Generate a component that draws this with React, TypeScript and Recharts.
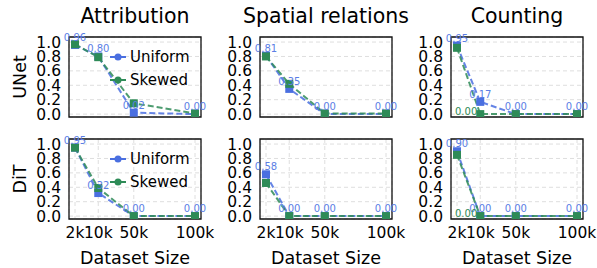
import React from 'react'
import {
  LineChart, Line, XAxis, YAxis, CartesianGrid, ReferenceArea, LabelList, Legend,
} from 'recharts'

// x positions of the four dataset sizes (as they sit on the reference axis) and their labels
const sizeLabels = ['2k', '10k', '50k', '100k']
const sizePos = [2, 21, 50, 100]
const yTicks = [0, 0.2, 0.4, 0.6, 0.8, 1.0]
const xDomain = [-2.9, 104.9]
const yDomain = [-0.04, 1.07]

const colTitles = ['Attribution', 'Spatial relations', 'Counting']
const rowTitles = ['UNet', 'DiT']
const seriesOrder = ['Uniform', 'Skewed']

// UNet
const unetAttrUniform = [0.96, 0.8, 0.02, 0.0]
const unetAttrSkewed = [0.97, 0.79, 0.15, 0.01]
const unetSpatUniform = [0.81, 0.35, 0.0, 0.0]
const unetSpatSkewed = [0.8, 0.42, 0.01, 0.01]
const unetCountUniform = [0.95, 0.17, 0.0, 0.0]
const unetCountSkewed = [0.92, 0.0, 0.0, 0.0]

// DiT
const ditAttrUniform = [0.95, 0.32, 0.0, 0.0]
const ditAttrSkewed = [0.95, 0.39, 0.0, 0.0]
const ditSpatUniform = [0.58, 0.0, 0.0, 0.0]
const ditSpatSkewed = [0.46, 0.0, 0.0, 0.0]
const ditCountUniform = [0.9, 0.0, 0.0, 0.0]
const ditCountSkewed = [0.85, 0.0, 0.0, 0.0]

// which Skewed points get their own value label
const countSkewedLabelIdx = [1]

const BLUE = '#4a6fe0'
const BLUE_TEXT = '#5b7ee5'
const GREEN = '#2e8b57'
const FONT = '"DejaVu Sans", sans-serif'

const colLeft = [69, 260, 451]
const rowTop = [37, 139]
const BOX_W = 132
const BOX_H = 80
const Y_AXIS_W = 40
const M_TOP = 12
const M_RIGHT = 14

const squareDot = (color: string) => (p: any) => (
  <rect key={p.key ?? p.index} x={p.cx - 4} y={p.cy - 4} width={8} height={8} fill={color} />
)

const UniformLabel = (p: any) => (
  <text x={p.x} y={p.y - 4} textAnchor="middle" fontSize={10} fill={BLUE_TEXT} fontFamily={FONT}>
    {Number(p.value).toFixed(2)}
  </text>
)

const makeSkewedLabel = (idx: number[]) => (p: any) => {
  if (!idx.includes(p.index)) return null
  return (
    <text x={p.x - 3} y={p.y + 1} textAnchor="end" fontSize={10} fill={GREEN} fontFamily={FONT}>
      {Number(p.value).toFixed(2)}
    </text>
  )
}

const LegendBox = ({ payload }: any) => {
  const items = [...(payload || [])].sort(
    (a: any, b: any) => seriesOrder.indexOf(a.value) - seriesOrder.indexOf(b.value),
  )
  return (
    <div style={{ fontFamily: FONT, fontSize: 15, color: '#000' }}>
      {items.map((e: any) => (
        <div key={e.value} style={{ display: 'flex', alignItems: 'center', height: 23 }}>
          <svg width={18} height={10} style={{ marginRight: 2 }}>
            <line x1={0} y1={5} x2={16} y2={5} stroke={e.color} strokeWidth={2} />
            <circle cx={8} cy={5} r={3.5} fill={e.color} />
          </svg>
          <span>{e.value}</span>
        </div>
      ))}
    </div>
  )
}

interface PanelProps {
  row: number
  col: number
  uniform: number[]
  skewed: number[]
  showLegend?: boolean
  skewedLabelIdx?: number[]
}

const Panel = ({ row, col, uniform, skewed, showLegend, skewedLabelIdx = [] }: PanelProps) => {
  const showX = row === 1
  const xAxisH = showX ? 30 : 0
  const data = sizePos.map((x, i) => ({ x, uniform: uniform[i], skewed: skewed[i] }))
  return (
    <div style={{ position: 'absolute', left: colLeft[col] - Y_AXIS_W, top: rowTop[row] - M_TOP }}>
      <LineChart
        width={Y_AXIS_W + BOX_W + M_RIGHT}
        height={M_TOP + BOX_H + xAxisH}
        data={data}
        margin={{ top: M_TOP, right: M_RIGHT, bottom: 0, left: 0 }}
      >
        <CartesianGrid stroke="#dedede" strokeDasharray="4 3" />
        <XAxis
          type="number"
          dataKey="x"
          domain={xDomain}
          ticks={sizePos}
          interval={0}
          tickFormatter={v => sizeLabels[sizePos.indexOf(v)]}
          height={xAxisH}
          tick={showX ? { fontSize: 15.5, fill: '#000', fontFamily: FONT } : false}
          axisLine={false}
          tickLine={false}
          allowDataOverflow
        />
        <YAxis
          type="number"
          domain={yDomain}
          ticks={yTicks}
          interval={0}
          tickFormatter={v => v.toFixed(1)}
          width={Y_AXIS_W}
          tick={{ fontSize: 15.5, fill: '#000', fontFamily: FONT }}
          axisLine={false}
          tickLine={false}
          allowDataOverflow
        />
        {/* axes frame */}
        <ReferenceArea
          x1={xDomain[0]}
          x2={xDomain[1]}
          y1={yDomain[0]}
          y2={yDomain[1]}
          fill="none"
          fillOpacity={0}
          stroke="#111"
          strokeWidth={1.3}
          ifOverflow="visible"
        />
        <Line
          dataKey="uniform"
          name="Uniform"
          stroke={BLUE}
          strokeWidth={2}
          strokeOpacity={0.85}
          strokeDasharray="6 3"
          dot={squareDot(BLUE)}
          activeDot={false}
          isAnimationActive={false}
        >
          <LabelList dataKey="uniform" content={UniformLabel} />
        </Line>
        <Line
          dataKey="skewed"
          name="Skewed"
          stroke={GREEN}
          strokeWidth={2}
          strokeOpacity={0.85}
          strokeDasharray="6 3"
          dot={squareDot(GREEN)}
          activeDot={false}
          isAnimationActive={false}
        >
          <LabelList dataKey="skewed" content={makeSkewedLabel(skewedLabelIdx)} />
        </Line>
        {showLegend && (
          <Legend
            layout="vertical"
            align="center"
            verticalAlign="middle"
            content={<LegendBox />}
            wrapperStyle={{ left: 81, top: 20, width: 'auto' }}
          />
        )}
      </LineChart>
    </div>
  )
}

const centerText = (text: string, x: number, y: number, size: number, rotate = false) => (
  <div
    key={text + x + y}
    style={{
      position: 'absolute', left: x, top: y, fontSize: size, whiteSpace: 'nowrap', lineHeight: 1,
      transform: `translate(-50%, -50%)${rotate ? ' rotate(-90deg)' : ''}`,
    }}
  >
    {text}
  </div>
)

export default function App() {
  return (
    <div
      style={{
        position: 'absolute', left: 0, top: 0, width: 597, height: 268,
        background: '#fff', fontFamily: FONT, color: '#000', overflow: 'hidden',
      }}
    >
      <style>{'.recharts-surface{overflow:visible}'}</style>
      {colTitles.map((t, i) => centerText(t, colLeft[i] + BOX_W / 2, 16, 20.5))}
      {rowTitles.map((t, i) => centerText(t, 21, rowTop[i] + BOX_H / 2, 17.5, true))}
      {colLeft.map((l, i) => centerText('Dataset Size', l + BOX_W / 2, 259, 17.5))}

      <Panel row={0} col={0} uniform={unetAttrUniform} skewed={unetAttrSkewed} showLegend />
      <Panel row={0} col={1} uniform={unetSpatUniform} skewed={unetSpatSkewed} />
      <Panel row={0} col={2} uniform={unetCountUniform} skewed={unetCountSkewed} skewedLabelIdx={countSkewedLabelIdx} />
      <Panel row={1} col={0} uniform={ditAttrUniform} skewed={ditAttrSkewed} showLegend />
      <Panel row={1} col={1} uniform={ditSpatUniform} skewed={ditSpatSkewed} />
      <Panel row={1} col={2} uniform={ditCountUniform} skewed={ditCountSkewed} skewedLabelIdx={countSkewedLabelIdx} />
    </div>
  )
}
